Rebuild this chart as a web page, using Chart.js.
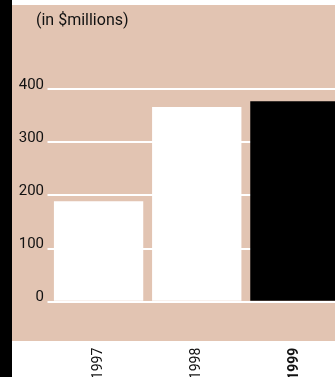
<!DOCTYPE html>
<html>
<head>
<meta charset="utf-8">
<script src="https://cdn.jsdelivr.net/npm/chart.js@4/dist/chart.umd.min.js"></script>
<style>
  html, body { margin: 0; padding: 0; background: #fff; overflow: hidden; }
  canvas { display: block; }
</style>
</head>
<body>
<canvas id="myChart" width="344" height="377"></canvas>
<script>
// values
const years = ['1997', '1998', '1999'];
const revenue = [189, 366, 377];
const yTicks = [0, 100, 200, 300, 400];
const unitLabel = '(in $millions)';

const tan = '#e2c4b2';

// paints the tan panel, black side strip and the unit note
const panel = {
    id: 'panel',
    beforeDraw(chart) {
        const ctx = chart.ctx;
        const w = chart.width, h = chart.height;
        ctx.save();
        ctx.fillStyle = '#fff';
        ctx.fillRect(0, 0, w, h);
        ctx.fillStyle = tan;
        ctx.fillRect(12, 5, w - 12, 336);
        ctx.fillStyle = '#000';
        ctx.fillRect(0, 0, 12, h);
        ctx.fillStyle = '#111';
        ctx.font = '16px Roboto';
        ctx.textBaseline = 'alphabetic';
        ctx.fillText(unitLabel, 36, 25);
        ctx.restore();
    }
};

const ctx = document.getElementById('myChart').getContext('2d');
const myChart = new Chart(ctx, {
    type: 'bar',
    data: {
        labels: years,
        datasets: [{
            data: revenue,
            backgroundColor: ctx => ctx.dataIndex === years.length - 1 ? '#000' : '#fff',
            borderWidth: 0,
            categoryPercentage: 1,
            barPercentage: 0.91,
        }],
    },
    options: {
        responsive: false,
        animation: false,
        layout: {
            padding: { top: 89, left: 0, right: 0, bottom: 0 }
        },
        plugins: {
            legend: { display: false },
            title: { display: false },
            tooltip: { enabled: false },
        },
        scales: {
            x: {
                offset: true,
                grid: { display: false, drawTicks: false },
                border: { display: false },
                ticks: {
                    minRotation: 90,
                    maxRotation: 90,
                    padding: 46,
                    color: '#111',
                    font: c => ({
                        family: 'Roboto',
                        size: 14,
                        weight: c.index === years.length - 1 ? 'bold' : 'normal'
                    }),
                },
                afterFit: s => {
                    s.height = 75.3;
                    s.paddingLeft = 0;
                    s.paddingRight = 0;
                },
            },
            y: {
                min: yTicks[0],
                max: yTicks[yTicks.length - 1],
                afterBuildTicks: s => { s.ticks = yTicks.map(v => ({ value: v })); },
                grid: {
                    color: '#fff',
                    lineWidth: 2,
                    drawTicks: true,
                    tickLength: 2,
                    tickColor: '#fff',
                },
                border: { display: false },
                ticks: {
                    padding: 3.5,
                    labelOffset: -4,
                    color: '#111',
                    font: { family: 'Roboto', size: 15 },
                },
                afterFit: s => { s.width = 49.5; },
            }
        }
    },
    plugins: [panel]
});
</script>
</body>
</html>
